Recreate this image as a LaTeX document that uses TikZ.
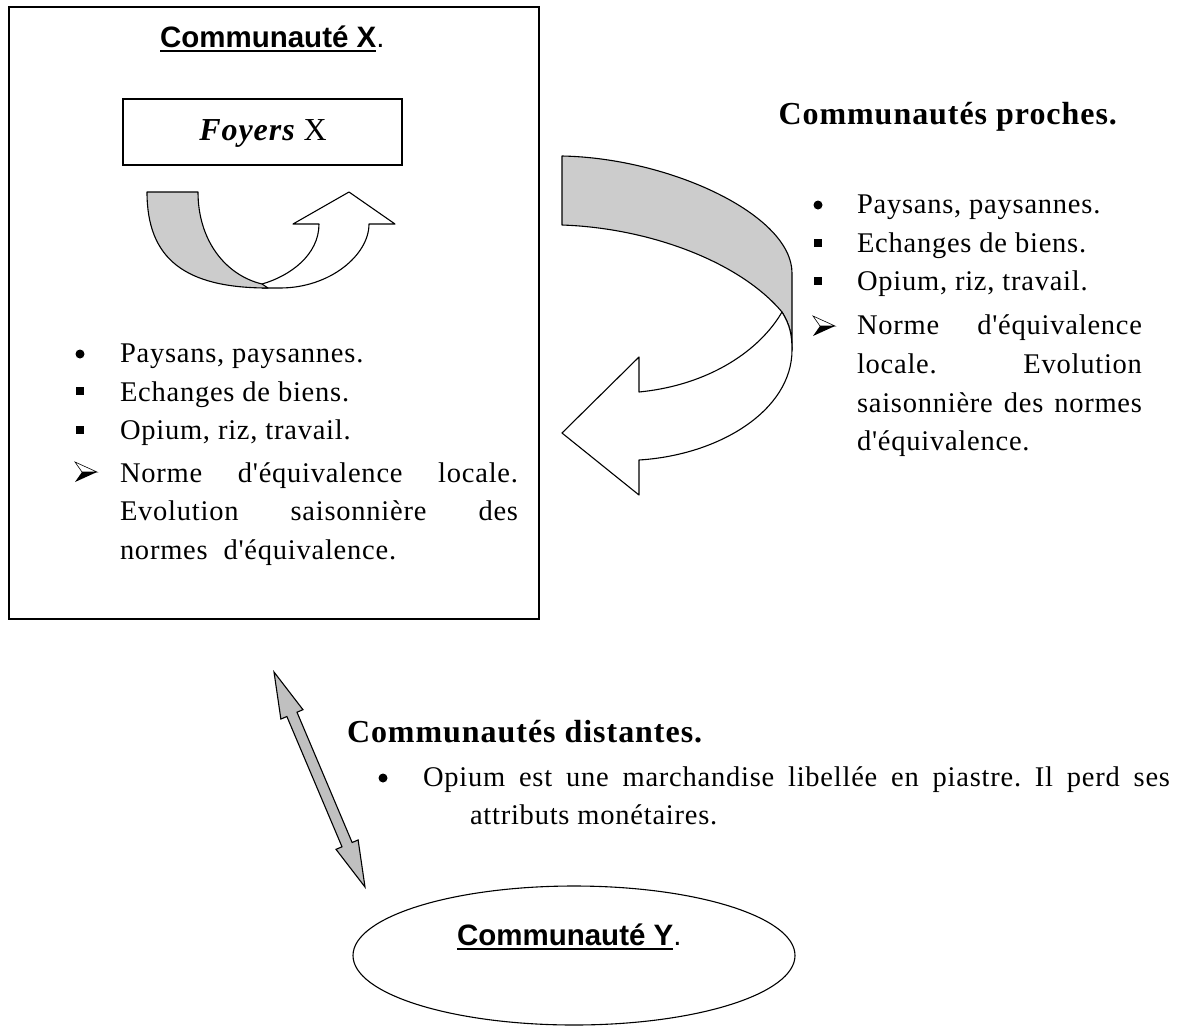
\documentclass[tikz,border=0pt]{standalone}
\usepackage{fontspec}
\usetikzlibrary{shapes.geometric}
\newfontfamily\bodyfont{Liberation Serif}[LetterSpace=2.7]
\newfontfamily\headfont{Liberation Serif}[LetterSpace=3]
\newfontfamily\titlefont{Liberation Sans}
\newcommand{\bodysize}{\fontsize{28.5}{38}\selectfont}
\newcommand{\headsize}{\fontsize{32}{38}\selectfont}
\newcommand{\ttlsize}{\fontsize{29.5}{34}\selectfont}
\definecolor{bandgray}{RGB}{204,204,204}
\definecolor{dblgray}{RGB}{192,192,192}
\newcommand{\arrowbul}[2]{%
  \begin{scope}[shift={(#1,#2)}]
    \draw[line width=0.6pt, fill=white, line join=miter] (-11,-10) -- (11,0) -- (-4,0) -- cycle;
    \fill (-11,10) -- (11,0) -- (-4,0) -- cycle;
  \end{scope}}
\newcommand{\sqbul}[2]{\fill (#1-3.6,#2-3.6) rectangle (#1+3.6,#2+3.6);}
\newcommand{\rdbul}[2]{\fill (#1,#2) circle (4.5);}
\frenchspacing
\begin{document}
\begin{tikzpicture}[x=1pt,y=-1pt,
  txt/.style={inner sep=0pt, outer sep=0pt, anchor=base west, font=\bodyfont\bodysize},
  head/.style={inner sep=0pt, outer sep=0pt, anchor=base west, font=\headfont\bfseries\headsize},
  ttl/.style={inner sep=0pt, outer sep=0pt, anchor=base west, font=\titlefont\bfseries\ttlsize},
  ttlp/.style={inner sep=0pt, outer sep=0pt, anchor=base west, font=\titlefont\ttlsize},
  outl/.style={draw=black, line width=1.1pt, line join=round}]

\fill[white] (0,0) rectangle (1189,1026);
\useasboundingbox (0,0) rectangle (1189,1026);

% Community X box
\node[draw, line width=1.6pt, minimum width=530pt, minimum height=612pt,
      anchor=north west, inner sep=0pt] (boxX) at (8,6) {};
\node[ttl] (tX) at (160,47) {Communauté X};
\node[ttlp] (tXp) at (tX.base east) {.};
\draw[line width=2pt] ([yshift=-4pt]tX.base west) -- ([yshift=-4pt]tX.base east);

% Foyers box
\node[draw, line width=1.1pt, minimum width=279pt, minimum height=66pt, inner sep=0pt] (foyers) at (262.5,132) {};
\node[inner sep=0pt, anchor=base] (foyerst) at (263,140)
  {{\headfont\bfseries\itshape\headsize Foyers}{\bodyfont\headsize\ X}};

% U-turn arrow inside box
\draw[outl, fill=white] (262,284) .. controls (290,276) and (319,255) .. (319,224)
  -- (293,224) -- (349,192) -- (395,224) -- (369,224)
  .. controls (369,255) and (330,288) .. (280,288) -- (262,288) -- cycle;
\draw[outl, fill=bandgray] (147,192) -- (198,192)
  .. controls (198,240) and (225,275) .. (262,284) -- (268,288)
  .. controls (185,288) and (147,259) .. (147,192) -- cycle;

% Left list
\rdbul{80}{354}
\sqbul{80}{391}
\sqbul{80}{430}
\arrowbul{86}{472}
\node[txt] (lp1) at (120,362) {Paysans, paysannes.};
\node[txt] (lp2) at (120,401) {Echanges de biens.};
\node[txt] (lp3) at (120,439) {Opium, riz, travail.};
\node[txt] (lp4) at (120,482) {\makebox[398pt][s]{Norme d'équivalence locale.}};
\node[txt] (lp5) at (120,520) {\makebox[398pt][s]{Evolution saisonnière des}};
\node[txt] (lp6) at (120,559) {normes\ \ d'équivalence.};

% Big curved arrow (towards Communauté X)
\draw[outl, fill=bandgray] (562,156) -- (562,225)
  .. controls (650,228) and (740,262) .. (782,312)
  .. controls (790,325) and (792,335) .. (792,350)
  -- (792,273) .. controls (792,215) and (670,158) .. (562,156) -- cycle;
\draw[outl, fill=white] (782,312) .. controls (760,350) and (710,385) .. (639,392)
  -- (639,357) -- (562,433) -- (639,495) -- (639,460)
  .. controls (720,455) and (792,410) .. (792,350)
  .. controls (792,335) and (790,325) .. (782,312) -- cycle;

% Communautés proches
\node[head, anchor=base east] (rhead) at (1117,124) {Communautés proches.};
\rdbul{818}{205}
\sqbul{818}{243}
\sqbul{818}{281}
\arrowbul{824}{326}
\node[txt] (rp1) at (857,213) {Paysans, paysannes.};
\node[txt] (rp2) at (857,252) {Echanges de biens.};
\node[txt] (rp3) at (857,290) {Opium, riz, travail.};
\node[txt] (rp4) at (857,334) {\makebox[285pt][s]{Norme d'équivalence}};
\node[txt] (rp5) at (857,373) {\makebox[285pt][s]{locale. Evolution}};
\node[txt] (rp6) at (857,412) {\makebox[285pt][s]{saisonnière des normes}};
\node[txt] (rp7) at (857,450) {d'équivalence.};

% Double arrow between X and Y
\coordinate (dA) at (274,672);
\coordinate (dB) at (365,887);
\draw[outl, line join=miter, fill=dblgray] (dA) -- (302.98,709.68) -- (296.99,712.22)
  -- (352.13,842.5) -- (358.12,839.96) -- (dB) -- (336.02,849.32)
  -- (342.01,846.78) -- (286.87,716.5) -- (280.88,719.04) -- cycle;

% Communautés distantes
\node[head] (bhead) at (347,742) {Communautés distantes.};
\rdbul{383}{778}
\node[txt] (b1) at (423,786) {\makebox[747pt][s]{Opium est une marchandise libellée en piastre. Il perd ses}};
\node[txt] (b2) at (470,824) {attributs monétaires.};

% Communauté Y
\node[ellipse, draw, line width=1.1pt, minimum width=442pt, minimum height=139pt, inner sep=0pt] (commY) at (574,955.5) {};
\node[ttl] (tY) at (457,945) {Communauté Y};
\node[ttlp] (tYp) at (tY.base east) {.};
\draw[line width=2pt] ([yshift=-3.5pt]tY.base west) -- ([yshift=-3.5pt]tY.base east);
\end{tikzpicture}
\end{document}
